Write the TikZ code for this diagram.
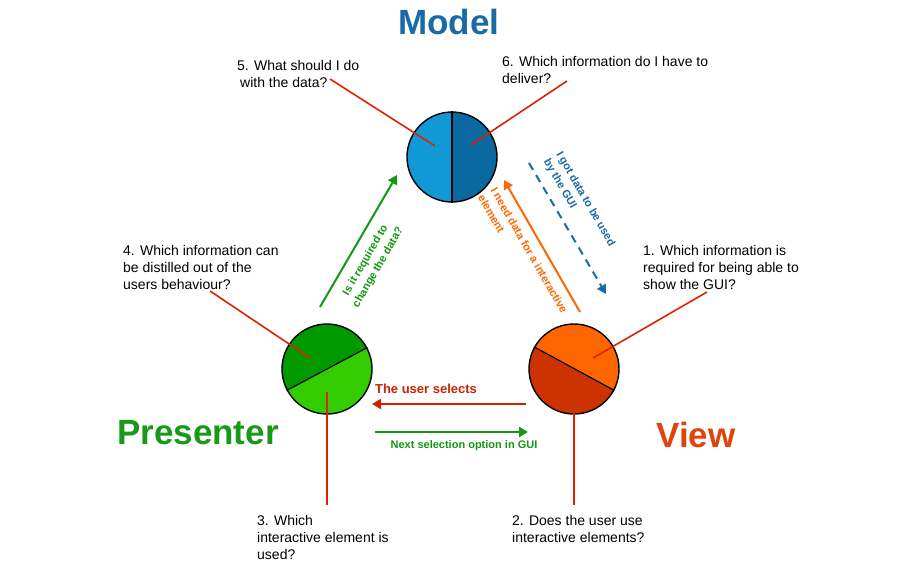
\documentclass[tikz,border=0pt]{standalone}
\usepackage{fontspec}
\setmainfont{Liberation Sans}
\usetikzlibrary{arrows.meta}

\definecolor{modelblue}{HTML}{1A6AA6}
\definecolor{modellight}{HTML}{1199D6}
\definecolor{modeldark}{HTML}{0A69A0}
\definecolor{presgreen}{HTML}{18991A}
\definecolor{presdark}{HTML}{009900}
\definecolor{preslight}{HTML}{33CC00}
\definecolor{viewred}{HTML}{E0440E}
\definecolor{vieworange}{HTML}{FF6600}
\definecolor{viewdark}{HTML}{CC3300}
\definecolor{pinred}{HTML}{DD2200}
\definecolor{selectred}{HTML}{CC2200}
\definecolor{flowgreen}{HTML}{119911}

\tikzset{
  ball/.style={circle, draw=black, line width=1.4pt, minimum size=90pt, inner sep=0pt},
  question/.style={anchor=north west, inner sep=0pt, align=left, font=\fontsize{14}{17}\selectfont},
  title/.style={anchor=base, inner sep=0pt, font=\fontsize{35}{40}\selectfont\bfseries},
  pin line/.style={draw=pinred, line width=1.6pt},
  flow/.style={line width=2pt, -{Triangle[length=9pt,width=10pt]}},
  flowtext/.style={inner sep=0pt, font=\fontsize{11}{14.5}\selectfont\bfseries}
}

\begin{document}
\begin{tikzpicture}[x=1pt,y=-1pt]
        \fill[white] (0,0) rectangle (920,567);
        \useasboundingbox (0,0) rectangle (920,567);

        \coordinate (mc) at (452,157);
        \coordinate (pc) at (327,369);
        \coordinate (vc) at (574,369);

        \begin{scope}
          \clip (mc) circle (45);
          \fill[modellight] (453,100) -- (452,215) -- (395,215) -- (395,100) -- cycle;
          \fill[modeldark] (453,100) -- (452,215) -- (510,215) -- (510,100) -- cycle;
        \end{scope}
        \begin{scope}
          \clip (pc) circle (45);
          \fill[presdark] (274.3,397.7) -- (379.7,340.3) -- (385,310) -- (270,310) -- cycle;
          \fill[preslight] (274.3,397.7) -- (379.7,340.3) -- (385,425) -- (270,425) -- cycle;
        \end{scope}
        \begin{scope}
          \clip (vc) circle (45);
          \fill[vieworange] (521.2,340.6) -- (626.8,397.4) -- (630,310) -- (515,310) -- cycle;
          \fill[viewdark] (521.2,340.6) -- (626.8,397.4) -- (630,425) -- (515,425) -- cycle;
        \end{scope}

        \node[ball] (model) at (mc) {};
        \node[ball] (presenter) at (pc) {};
        \node[ball] (view) at (vc) {};
        \draw[line width=1.2pt] (model.north) -- (model.south);
        \draw[line width=1.2pt] (presenter.28.6) -- (presenter.208.6);
        \draw[line width=1.2pt] (view.-28.3) -- (view.151.7);

        \node[title, text=modelblue] (modeltitle) at (449,35) {Model};
        \node[title, text=presgreen] (presentertitle) at (198,444) {Presenter};
        \node[title, text=viewred] (viewtitle) at (696,447) {View};

        \node[question] (q5) at (237,60.5) {5. What should I do\\\hspace{3pt}with the data?};
        \node[question] (q6) at (502,56.5) {6. Which information do I have to\\deliver?};
        \node[question] (q4) at (123,245.5) {4. Which information can\\be distilled out of the\\users behaviour?};
        \node[question] (q1) at (643,245.5) {1. Which information is\\required for being able to\\show the GUI?};
        \node[question] (q3) at (257,515.5) {3. Which\\interactive element is\\used?};
        \node[question] (q2) at (512,515.5) {2. Does the user use\\interactive elements?};

        \coordinate (q5a) at (330,79);
        \coordinate (q5b) at (435,146);
        \coordinate (q6a) at (567,81);
        \coordinate (q6b) at (471,145);
        \coordinate (q4a) at (210,291);
        \coordinate (q4b) at (310,358);
        \coordinate (q1a) at (707,292);
        \coordinate (q1b) at (593,358);
        \coordinate (q3a) at (327,505);
        \coordinate (q3b) at (327,392);
        \coordinate (q2a) at (574,505);
        \coordinate (q2b) at (574,411);
        \draw[pin line] (q5a) -- (q5b);
        \draw[pin line] (q6a) -- (q6b);
        \draw[pin line] (q4a) -- (q4b);
        \draw[pin line] (q1a) -- (q1b);
        \draw[pin line] (q3a) -- (q3b);
        \draw[pin line] (q2a) -- (q2b);

        \coordinate (pm1) at (320,307);
        \coordinate (pm2) at (397,175);
        \coordinate (vm1) at (580,312);
        \coordinate (vm2) at (504,180);
        \coordinate (mv1) at (529,163);
        \coordinate (mv2) at (606,294);
        \coordinate (vp1) at (526,404);
        \coordinate (vp2) at (372,404);
        \coordinate (pv1) at (375,432);
        \coordinate (pv2) at (528,432);
        \draw[flow, flowgreen] (pm1) -- (pm2);
        \draw[flow, vieworange] (vm1) -- (vm2);
        \draw[flow, modelblue, dash pattern=on 8pt off 6pt] (mv1) -- (mv2);
        \draw[flow, selectred] (vp1) -- (vp2);
        \draw[flow, flowgreen] (pv1) -- (pv2);

        \node[flowtext, text=flowgreen, rotate=60, align=center] (pmtext) at (372,264) {Is it required to\\change the data?};
        \node[flowtext, text=vieworange, rotate=-60, align=left] (vmtext) at (523,254) {I need data for a interactive\\element};
        \node[flowtext, text=modelblue, rotate=-60, align=left] (mvtext) at (579,203) {I got data to be used\\by the GUI};
        \node[flowtext, text=selectred, font=\fontsize{13}{15}\selectfont\bfseries] (vptext) at (426,389) {The user selects};
        \node[flowtext, text=flowgreen] (pvtext) at (464,446) {Next selection option in GUI};
\end{tikzpicture}
\end{document}
